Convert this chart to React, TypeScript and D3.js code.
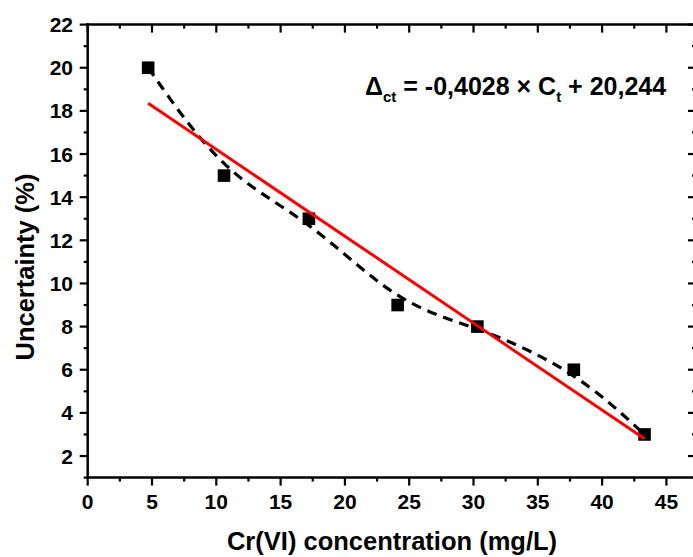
import React from "react";
import * as d3 from "d3";

const xValues = [4.7, 10.6, 17.2, 24.1, 30.3, 37.8, 43.3];
const yValues = [20, 15, 13, 9, 8, 6, 3];
const fitSlope = -0.4028;
const fitIntercept = 20.244;
const xTicks = [0, 5, 10, 15, 20, 25, 30, 35, 40, 45];
const xMinor = [2.5, 7.5, 12.5, 17.5, 22.5, 27.5, 32.5, 37.5, 42.5];
const yTicks = [2, 4, 6, 8, 10, 12, 14, 16, 18, 20, 22];
const yMinor = [1, 3, 5, 7, 9, 11, 13, 15, 17, 19, 21];
const xTitle = "Cr(VI) concentration (mg/L)";
const yTitle = "Uncertainty (%)";

const W = 693;
const H = 557;
const FONT = "'Liberation Sans', Arial, sans-serif";

export default function App() {
  const x = d3.scaleLinear().domain([0, 47.3]).range([87.7, 696]);
  const y = d3.scaleLinear().domain([1, 22]).range([477.6, 24.6]);
  const [x0, x1] = x.range();
  const [y0, y1] = y.range();

  const pts: [number, number][] = xValues.map((v, i) => [x(v), y(yValues[i])]);
  const dashed = d3.line().curve(d3.curveBasis)(pts) || "";
  const xs = [xValues[0], xValues[xValues.length - 1]];
  const fit = d3.line()(xs.map((v) => [x(v), y(fitSlope * v + fitIntercept)] as [number, number])) || "";

  const sq = 12.6;
  const axisW = 2.5;
  const maj = 8;
  const min = 4;

  return (
    <svg
      width={W}
      height={H}
      style={{ position: "absolute", left: 0, top: 0, background: "#fff" }}
      fontFamily={FONT}
      fontWeight="bold"
    >
      <rect x={0} y={0} width={W} height={H} fill="#fff" />
      {/* data */}
      {pts.map(([px, py], i) => (
        <rect key={i} x={px - sq / 2} y={py - sq / 2} width={sq} height={sq} fill="#000" />
      ))}
      <path d={dashed} fill="none" stroke="#000" strokeWidth={3.2} strokeDasharray="10,7" />
      <path d={fit} fill="none" stroke="#ff0000" strokeWidth={3} />

      {/* frame */}
      <g stroke="#000" strokeWidth={axisW} fill="none">
        <line x1={x0 - axisW / 2} x2={x1} y1={y0} y2={y0} />
        <line x1={x0 - axisW / 2} x2={x1} y1={y1} y2={y1} />
        <line x1={x0} x2={x0} y1={y0 + axisW / 2} y2={y1 - axisW / 2} />
        <line x1={x1} x2={x1} y1={y0} y2={y1} />
      </g>
      {/* ticks */}
      <g stroke="#000" strokeWidth={2.2}>
        {xTicks.map((t) => (
          <g key={"xt" + t}>
            <line x1={x(t)} x2={x(t)} y1={y0} y2={y0 + maj} />
            <line x1={x(t)} x2={x(t)} y1={y1} y2={y1 + maj} />
          </g>
        ))}
        {xMinor.map((t) => (
          <g key={"xm" + t}>
            <line x1={x(t)} x2={x(t)} y1={y0} y2={y0 + min} />
            <line x1={x(t)} x2={x(t)} y1={y1} y2={y1 + min} />
          </g>
        ))}
        {yTicks.map((t) => (
          <g key={"yt" + t}>
            <line x1={x0 - maj} x2={x0} y1={y(t)} y2={y(t)} />
            <line x1={x1 - maj} x2={x1} y1={y(t)} y2={y(t)} />
          </g>
        ))}
        {yMinor.map((t) => (
          <g key={"ym" + t}>
            <line x1={x0 - min} x2={x0} y1={y(t)} y2={y(t)} />
            <line x1={x1 - min} x2={x1} y1={y(t)} y2={y(t)} />
          </g>
        ))}
      </g>
      {/* tick labels */}
      <g fontSize={21} fill="#000">
        {xTicks.map((t) => (
          <text key={"xl" + t} x={x(t)} y={509} textAnchor="middle">
            {t}
          </text>
        ))}
        {yTicks.map((t) => (
          <text key={"yl" + t} x={73} y={y(t)} dy="0.36em" textAnchor="end">
            {t}
          </text>
        ))}
      </g>
      {/* titles */}
      <text x={392} y={550} fontSize={25.5} textAnchor="middle" fill="#000">
        {xTitle}
      </text>
      <text
        transform={`translate(34,267) rotate(-90)`}
        fontSize={25.5}
        textAnchor="middle"
        fill="#000"
      >
        {yTitle}
      </text>
      {/* equation */}
      <text x={365} y={95} fontSize={25} fill="#000" style={{ whiteSpace: "pre" }}>
        Δ
        <tspan fontSize={15} dy={7}>ct</tspan>
        <tspan dy={-7}>{" = -0,4028 × C"}</tspan>
        <tspan fontSize={15} dy={7}>t</tspan>
        <tspan dy={-7}>{" + 20,244"}</tspan>
      </text>
    </svg>
  );
}
